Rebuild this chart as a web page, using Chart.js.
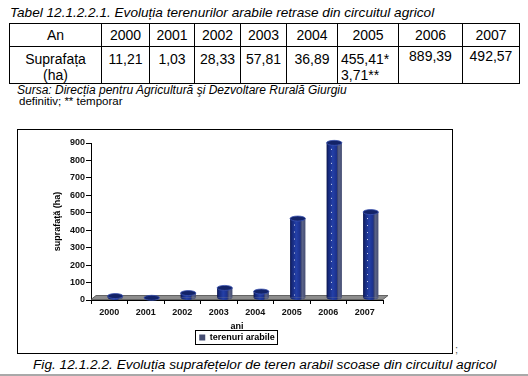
<!DOCTYPE html>
<html>
<head>
<meta charset="utf-8">
<script src="https://cdn.jsdelivr.net/npm/chart.js@4.4.0/dist/chart.umd.min.js"></script>
<style>
  body { margin: 0; width: 528px; height: 376px; background: #fff; position: relative; overflow: hidden;
         font-family: "Liberation Sans", Arial, sans-serif; color: #000; }
  .txt { position: absolute; white-space: nowrap; }
  #tableTitle { left: 10px; top: 5px; font-size: 13.6px; font-style: italic; }
  #dataTable { position: absolute; left: 9px; top: 23px; border-collapse: collapse; table-layout: fixed;
               width: 510px; font-size: 14px; }
  #dataTable td { border: 1px solid #000; padding: 0; text-align: center; }
  #dataTable tr.head td { height: 22px; }
  #dataTable tr.vals td { height: 32px; vertical-align: top; line-height: 16px; padding-top: 4px; }
  #dataTable td.left { text-align: left; padding-left: 3px; }
  #dataTable tr.vals td.high { padding-top: 1px; height: 35px; }
  #source { left: 17px; top: 83px; font-size: 12px; font-style: italic; }
  #notes { left: 19px; top: 95px; font-size: 11.5px; }
  #frame { position: absolute; left: 17px; top: 129px; width: 436px; height: 225px; border: 1px solid #000;
           box-sizing: border-box; }
  #chart { position: absolute; left: 17px; top: 129px; }
  #semi { left: 455px; top: 343px; font-size: 11px; color: #555; }
  #caption { left: 33px; top: 357px; font-size: 13.7px; font-style: italic; }
  #rule { position: absolute; left: 0; top: 374px; width: 528px; height: 2px; background: #a9a9a9; }
</style>
</head>
<body>
<div class="txt" id="tableTitle">Tabel 12.1.2.2.1. Evoluția terenurilor arabile retrase din circuitul agricol</div>
<table id="dataTable">
  <colgroup>
    <col style="width:92px"><col style="width:48px"><col style="width:45px"><col style="width:46px">
    <col style="width:46px"><col style="width:51px"><col style="width:61px"><col style="width:64px"><col style="width:57px">
  </colgroup>
  <tr class="head"><td>An</td><td>2000</td><td>2001</td><td>2002</td><td>2003</td><td>2004</td><td>2005</td><td>2006</td><td>2007</td></tr>
  <tr class="vals"><td>Suprafața<br>(ha)</td><td>11,21</td><td>1,03</td><td>28,33</td><td>57,81</td><td>36,89</td>
    <td class="left">455,41*<br>3,71**</td><td class="high">889,39</td><td class="high">492,57</td></tr>
</table>
<div class="txt" id="source">Sursa: Direcția pentru Agricultură şi Dezvoltare Rurală Giurgiu</div>
<div class="txt" id="notes">definitiv; ** temporar</div>
<div id="frame"></div>
<canvas id="chart" width="436" height="225"></canvas>
<div class="txt" id="semi">;</div>
<div class="txt" id="caption">Fig. 12.1.2.2. Evoluția suprafețelor de teren arabil scoase din circuitul agricol</div>
<div id="rule"></div>

<script>
const years = ['2000', '2001', '2002', '2003', '2004', '2005', '2006', '2007'];
const arableSurface = [11.21, 1.03, 28.33, 57.81, 36.89, 455.41, 889.39, 492.57];
const seriesLabel = 'terenuri arabile';
const yMin = 0;
const yMax = 900;
const yStep = 100;

const BAR_PCT = 0.42;
const DEPTH_X = 5;
const DEPTH_Y = 4;
const NAVY = '#1b2b82';
const FONT = '"Liberation Sans", Arial, sans-serif';

function barFill(context) {
    const chart = context.chart;
    const xs = chart.scales.x;
    if (context.type !== 'data' || !xs) return NAVY;
    const cx = xs.getPixelForValue(context.dataIndex);
    const half = (xs.getPixelForValue(1) - xs.getPixelForValue(0)) * BAR_PCT / 2;
    const g = chart.ctx.createLinearGradient(cx - half, 0, cx + half, 0);
    g.addColorStop(0, '#0a144a');
    g.addColorStop(0.12, '#15287a');
    g.addColorStop(0.4, '#2440a8');
    g.addColorStop(0.66, '#1b308c');
    g.addColorStop(0.7, '#363f6c');
    g.addColorStop(0.8, '#5b6388');
    g.addColorStop(1, '#454d72');
    return g;
}

// floor, cylinder caps and the legend frame
const cylinderPlugin = {
    id: 'cylinder3d',
    beforeDatasetsDraw(chart) {
        const { ctx, chartArea } = chart;
        const y0 = chart.scales.y.getPixelForValue(0);
        ctx.save();
        ctx.beginPath();
        ctx.moveTo(chartArea.left, y0 - 0.5);
        ctx.lineTo(chartArea.right, y0 - 0.5);
        ctx.lineTo(chartArea.right + DEPTH_X, y0 - DEPTH_Y - 0.5);
        ctx.lineTo(chartArea.left + DEPTH_X, y0 - DEPTH_Y - 0.5);
        ctx.closePath();
        ctx.fillStyle = '#8d8d8d';
        ctx.fill();
        ctx.strokeStyle = '#4b4b4b';
        ctx.lineWidth = 0.8;
        ctx.stroke();
        ctx.restore();
        ctx.save();
        ctx.translate(6, -2);
    },
    afterDatasetsDraw(chart) {
        const ctx = chart.ctx;
        chart.getDatasetMeta(0).data.forEach(bar => {
            const rx = bar.width / 2;
            const ry = 2.5;
            ctx.beginPath();
            ctx.ellipse(bar.x, bar.base, rx, ry, 0, 0, Math.PI);
            ctx.fillStyle = bar.options.backgroundColor;
            ctx.fill();
            if (bar.base - bar.y > 14) {
                ctx.save();
                ctx.setLineDash([1, 6]);
                ctx.strokeStyle = 'rgba(255,255,255,0.8)';
                ctx.lineWidth = 1;
                ctx.beginPath();
                ctx.moveTo(Math.round(bar.x - rx * 0.45) + 0.5, bar.y + 6);
                ctx.lineTo(Math.round(bar.x - rx * 0.45) + 0.5, bar.base - 2);
                ctx.stroke();
                ctx.restore();
            }
            ctx.beginPath();
            ctx.ellipse(bar.x, bar.y, rx, ry, 0, 0, Math.PI * 2);
            ctx.fillStyle = '#132368';
            ctx.fill();
            ctx.strokeStyle = '#3a52b0';
            ctx.lineWidth = 0.8;
            ctx.stroke();
        });
        ctx.restore();
    },
    afterDraw(chart) {
        const hb = chart.legend && chart.legend.legendHitBoxes[0];
        if (!hb) return;
        const ctx = chart.ctx;
        ctx.save();
        ctx.strokeStyle = '#000';
        ctx.lineWidth = 1;
        ctx.strokeRect(Math.round(hb.left - 4) + 0.5, Math.round(hb.top - 3) + 0.5,
                       Math.round(hb.width + 6), Math.round(hb.height + 5));
        ctx.restore();
    }
};

new Chart(document.getElementById('chart'), {
    type: 'bar',
    data: {
        labels: years,
        datasets: [{
            label: seriesLabel,
            data: arableSurface,
            backgroundColor: barFill,
            borderWidth: 0,
            categoryPercentage: 1,
            barPercentage: BAR_PCT
        }]
    },
    options: {
        responsive: false,
        animation: false,
        layout: { padding: { left: 0, right: 70, top: 14, bottom: 2 } },
        plugins: {
            tooltip: { enabled: false },
            legend: {
                position: 'bottom',
                fullSize: false,
                labels: {
                    boxWidth: 6,
                    boxHeight: 6,
                    padding: 0,
                    color: '#000',
                    font: { family: FONT, size: 9, weight: 'bold' }
                }
            }
        },
        scales: {
            x: {
                afterFit: scale => { scale.height = 33; },
                border: { display: true, color: '#000', width: 1 },
                grid: { display: true, drawOnChartArea: false, drawTicks: true, tickLength: 4, color: '#000' },
                ticks: { color: '#111', padding: 3, font: { family: FONT, size: 9, weight: 'bold' } },
                title: {
                    display: true, text: 'ani', color: '#000',
                    padding: { top: 0, bottom: 1 },
                    font: { family: FONT, size: 9, weight: 'bold' }
                }
            },
            y: {
                min: yMin,
                max: yMax,
                afterFit: scale => { scale.width = 74; },
                border: { display: true, color: '#000', width: 1 },
                grid: { display: true, drawOnChartArea: false, drawTicks: true, tickLength: 5, color: '#000' },
                ticks: { stepSize: yStep, color: '#111', padding: 1, font: { family: FONT, size: 9, weight: 'bold' } },
                title: {
                    display: true, text: 'suprafaţă (ha)', color: '#000',
                    padding: { top: 35, bottom: 0 },
                    font: { family: FONT, size: 9, weight: 'bold' }
                }
            }
        }
    },
    plugins: [cylinderPlugin]
});
</script>
</body>
</html>
